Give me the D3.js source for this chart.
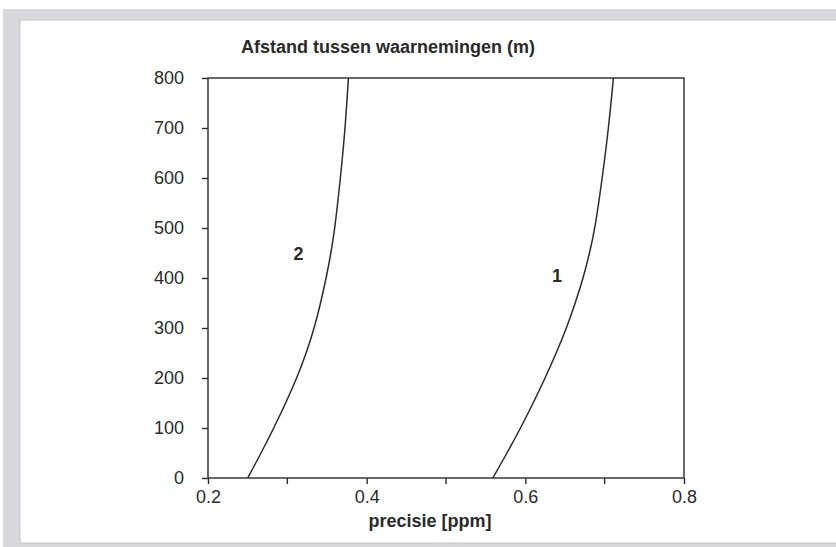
<!DOCTYPE html>
<html lang="nl">
<head>
  <meta charset="UTF-8">
  <title>Afstand tussen waarnemingen</title>
  <script src="https://d3js.org/d3.v7.min.js"></script>
  <style>
    html, body { margin: 0; padding: 0; background: #fff; }
    svg { display: block; font-family: "Liberation Sans", Arial, sans-serif; }
    .axis path, .axis line { stroke: #2e2a30; stroke-width: 1.4px; }
    .axis text { font-size: 18px; fill: #2a2a2a; font-family: "Liberation Sans", Arial, sans-serif; }
  </style>
</head>
<body>
  <svg id="chart" width="836" height="547"></svg>
  <script>
    // afstand tussen waarnemingen (m)
    const afstand = [0, 50, 100, 150, 200, 250, 300, 350, 400, 450, 500, 600, 700, 800];
    // precisie [ppm] per curve
    const curve1 = [0.559, 0.577, 0.594, 0.610, 0.625, 0.639, 0.652, 0.663, 0.673, 0.681, 0.688, 0.697, 0.705, 0.711];
    const curve2 = [0.250, 0.267, 0.283, 0.298, 0.312, 0.324, 0.334, 0.342, 0.349, 0.355, 0.360, 0.367, 0.373, 0.377];
    const curveLabels = [
      { name: "1", x: 0.640, y: 404 },
      { name: "2", x: 0.314, y: 448 }
    ];
    const xTicks = [0.2, 0.4, 0.6, 0.8];
    const xMinorTicks = [0.3, 0.5, 0.7];
    const yTicks = [0, 100, 200, 300, 400, 500, 600, 700, 800];

    const svg = d3.select("#chart");
    const width = +svg.attr("width");
    const height = +svg.attr("height");

    // scan-achtige grijze rand
    svg.append("rect").attr("x", 3).attr("y", 9).attr("width", width).attr("height", height)
      .attr("fill", "#d8d8dc");
    svg.append("rect").attr("x", 20).attr("y", 20).attr("width", width).attr("height", 523)
      .attr("fill", "#fff").attr("stroke", "#c4c4c8").attr("stroke-width", 1);

    const margin = { top: 78, left: 208, right: 684, bottom: 478 };
    const x = d3.scaleLinear().domain([0.2, 0.8]).range([margin.left, margin.right]);
    const y = d3.scaleLinear().domain([0, 800]).range([margin.bottom, margin.top]);

    // kader
    svg.append("rect")
      .attr("x", x(0.2)).attr("y", y(800))
      .attr("width", x(0.8) - x(0.2)).attr("height", y(0) - y(800))
      .attr("fill", "none").attr("stroke", "#2e2a30").attr("stroke-width", 1.4);

    const xAxis = svg.append("g").attr("class", "axis")
      .attr("transform", `translate(0,${y(0)})`)
      .call(d3.axisBottom(x).tickValues(xTicks).tickFormat(d3.format(".1f")).tickSizeInner(6).tickSizeOuter(0).tickPadding(6));
    xAxis.select(".domain").remove();
    xAxis.selectAll(".minor").data(xMinorTicks).join("line")
      .attr("class", "minor")
      .attr("x1", d => x(d)).attr("x2", d => x(d))
      .attr("y1", 0).attr("y2", 6);

    const yAxis = svg.append("g").attr("class", "axis")
      .attr("transform", `translate(${x(0.2)},0)`)
      .call(d3.axisLeft(y).tickValues(yTicks).tickSizeInner(6).tickSizeOuter(0).tickPadding(18));
    yAxis.select(".domain").remove();

    const line = d3.line()
      .x(d => x(d[0]))
      .y(d => y(d[1]))
      .curve(d3.curveBasis);

    [curve1, curve2].forEach(c => {
      svg.append("path")
        .datum(c.map((v, i) => [v, afstand[i]]))
        .attr("fill", "none")
        .attr("stroke", "#2e2a30")
        .attr("stroke-width", 1.5)
        .attr("d", line);
    });

    svg.selectAll(".curve-label").data(curveLabels).join("text")
      .attr("class", "curve-label")
      .attr("x", d => x(d.x)).attr("y", d => y(d.y))
      .attr("text-anchor", "middle").attr("dy", "0.35em")
      .attr("font-size", 18).attr("font-weight", "bold").attr("fill", "#2a2a2a")
      .text(d => d.name);

    svg.append("text")
      .attr("x", 388).attr("y", 53)
      .attr("text-anchor", "middle")
      .attr("font-size", 18).attr("font-weight", "bold").attr("fill", "#2a2a2a")
      .text("Afstand tussen waarnemingen (m)");

    svg.append("text")
      .attr("x", 430).attr("y", 527)
      .attr("text-anchor", "middle")
      .attr("font-size", 18).attr("font-weight", "bold").attr("fill", "#2a2a2a")
      .text("precisie [ppm]");
  </script>
</body>
</html>
